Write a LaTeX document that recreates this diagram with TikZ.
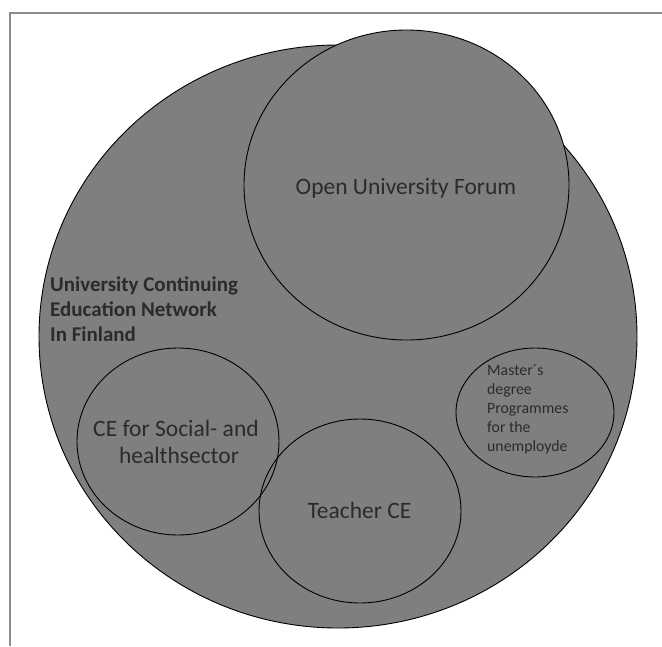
\documentclass[tikz,border=0pt]{standalone}
\usepackage{fontspec}
\setmainfont{Carlito}
\definecolor{fillgray}{HTML}{7F7F7F}
\definecolor{txtgray}{HTML}{2B2B2B}
\definecolor{framegray}{HTML}{8C8C8C}
\begin{document}
\begin{tikzpicture}[x=1pt,y=-1pt,
  blob/.style={draw=black,line width=0.9pt},
  lbl/.style={inner sep=0pt,text=txtgray},
  big/.style={lbl,anchor=base,font=\fontsize{23.5}{28}\selectfont},
  ttl/.style={lbl,anchor=base west,font=\fontsize{21}{25}\selectfont\bfseries},
  sml/.style={lbl,anchor=base west,font=\fontsize{15.8}{19}\selectfont}]
\useasboundingbox (0,0) rectangle (662,646);
% frame
\coordinate (fc) at (10,13);
\coordinate (fb) at (10,646);
\coordinate (fr) at (662,13);
\draw[framegray,line width=1.2pt] (fb) -- (fc) -- (fr);
% big circle
\draw[blob,fill=fillgray] (338,336.5) ellipse [x radius=299,y radius=291.5];
% forum
\draw[blob,fill=fillgray] (406.5,185) ellipse [x radius=162.5,y radius=155];
% social, teacher, masters
\draw[blob] (178,441.5) ellipse [x radius=101,y radius=93.5];
\draw[blob] (360,511) ellipse [x radius=101,y radius=92];
\draw[blob] (535,412.5) ellipse [x radius=79,y radius=64.5];
% texts
\node[big] (forum) at (406,194) {Open University Forum};
\node[ttl] (title1) at (50,291) {University Continuing};
\node[ttl] (title2) at (50,316) {Education Network};
\node[ttl] (title3) at (50,341) {In Finland};
\node[big] (social1) at (176,436) {CE for Social- and};
\node[big] (social2) at (179,463) {healthsector};
\node[big] (teacher) at (359.5,518) {Teacher CE};
\node[sml] (master1) at (487,375) {Master´s};
\node[sml] (master2) at (487,394.2) {degree};
\node[sml] (master3) at (487,413.4) {Programmes};
\node[sml] (master4) at (487,432.6) {for the};
\node[sml] (master5) at (487,451.8) {unemployde};
\end{tikzpicture}
\end{document}
